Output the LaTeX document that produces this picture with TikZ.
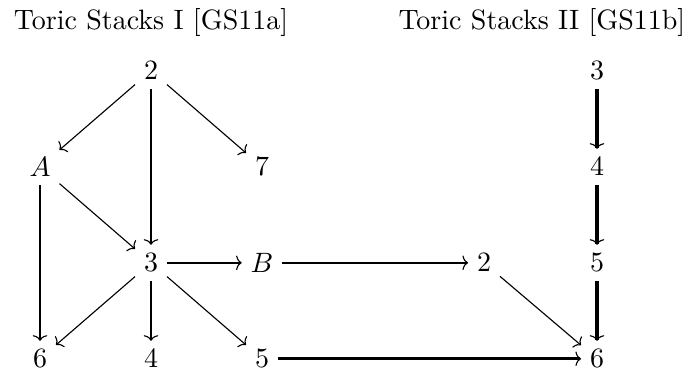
\documentclass[tikz,border=0pt]{standalone}
\usetikzlibrary{arrows.meta}
\begin{document}
\begin{tikzpicture}[x=1pt,y=1pt,
  lbl/.style={inner sep=3pt},
  tip/.style={-{To[length=2pt,width=5.2pt,line width=0.4pt]}},
  thinarr/.style={line width=0.4pt,tip},
  medarr/.style={line width=0.8pt,tip},
  thickarr/.style={line width=1.2pt,tip}]
\useasboundingbox (0,-0.8) rectangle (248.21,-132.94);
% titles
\node[anchor=base,inner sep=0] (t1) at (53.93,-11.43) {Toric Stacks I [GS11a]};
\node[anchor=base west,inner sep=0] (t2) at (142.14,-11.43) {Toric Stacks II [GS11b]};
% left diagram
\node[lbl] (a2) at (53.93,-26.07) {$2$};
\node[lbl] (aA) at (14.29,-60.36) {$A$};
\node[lbl] (a7) at (93.57,-60.36) {$7$};
\node[lbl] (a3) at (53.93,-94.64) {$3$};
\node[lbl] (aB) at (93.57,-94.64) {$B$};
\node[lbl] (b2) at (172.86,-94.64) {$2$};
\node[lbl] (a6) at (14.29,-128.93) {$6$};
\node[lbl] (a4) at (53.93,-128.93) {$4$};
\node[lbl] (a5) at (93.57,-128.93) {$5$};
% right column
\node[lbl] (b3) at (213.21,-26.07) {$3$};
\node[lbl] (b4) at (213.21,-60.36) {$4$};
\node[lbl] (b5) at (213.21,-94.64) {$5$};
\node[lbl] (b6) at (213.21,-128.93) {$6$};
% arrows
\draw[thinarr] (a2) -- (aA);
\draw[medarr] (a2) -- (a3);
\draw[thinarr] (a2) -- (a7);
\draw[thinarr] (aA) -- (a3);
\draw[medarr] (aA) -- (a6);
\draw[medarr] (a3) -- (aB);
\draw[thinarr] (a3) -- (a6);
\draw[medarr] (a3) -- (a4);
\draw[thinarr] (a3) -- (a5);
\draw[medarr] (aB) -- (b2);
\draw[thickarr] (a5) -- (b6);
\draw[thinarr] (b2) -- (b6);
\draw[thickarr] (b3) -- (b4);
\draw[thickarr] (b4) -- (b5);
\draw[thickarr] (b5) -- (b6);
\end{tikzpicture}
\end{document}
